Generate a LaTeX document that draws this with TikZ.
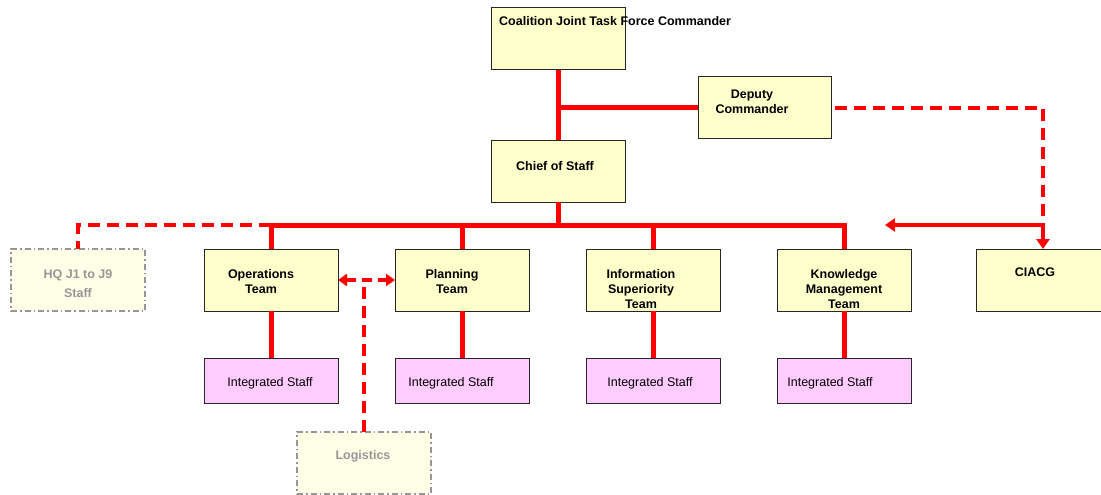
\documentclass[tikz,border=0pt]{standalone}
\usepackage{fontspec}
\setmainfont{Liberation Sans}
\usetikzlibrary{arrows.meta}
\definecolor{boxyellow}{RGB}{255,255,204}
\definecolor{boxpink}{RGB}{255,204,255}
\definecolor{paleyellow}{RGB}{255,255,232}
\definecolor{ghost}{RGB}{150,150,150}
\tikzset{
  box/.style={draw=black!85, line width=1pt, fill=boxyellow, anchor=north west, minimum width=134pt, minimum height=62pt, inner sep=0pt, outer sep=0pt},
  staffbox/.style={draw=black!85, line width=1pt, fill=boxpink, anchor=north west, minimum width=134pt, minimum height=45pt, inner sep=0pt, outer sep=0pt},
  ghostbox/.style={draw=ghost, line width=1.5pt, dash pattern=on 6pt off 3pt on 1.5pt off 3pt, fill=paleyellow, anchor=north west, minimum width=134pt, minimum height=62pt, inner sep=0pt, outer sep=0pt},
  txt/.style={font=\fontsize{12.5}{15}\selectfont\bfseries, align=center, inner sep=0pt},
  stafftxt/.style={font=\fontsize{12.5}{15}\selectfont, inner sep=0pt},
  ghosttxt/.style={txt, text=ghost},
  redline/.style={draw=red, line width=5pt},
  reddash/.style={draw=red, line width=4pt, dash pattern=on 12pt off 7pt},
  tip/.style={-{Triangle[length=10pt,width=13pt]}}
}
\begin{document}
\begin{tikzpicture}[x=1pt,y=-1pt]
\useasboundingbox (0,0) rectangle (1101,495);
% boxes
\node[box] (cjtf) at (491,8) {};
\node[box, minimum width=133pt, minimum height=61pt] (dep) at (698,77) {};
\node[box] (cos) at (491,140) {};
\node[ghostbox] (hq) at (11,249) {};
\node[box] (ops) at (204,249) {};
\node[box] (plan) at (395,249) {};
\node[box] (info) at (586,249) {};
\node[box] (km) at (777,249) {};
\node[box] (ciacg) at (976,249) {};
\node[staffbox] (s1) at (204,358) {};
\node[staffbox] (s2) at (395,358) {};
\node[staffbox] (s3) at (586,358) {};
\node[staffbox] (s4) at (777,358) {};
\node[ghostbox] (log) at (297,432) {};
% texts
\node[txt, anchor=base west] (tcjtf) at (499,26) {Coalition Joint Task Force Commander};
\node[txt] (tdep) at (752,102) {Deputy\\Commander};
\node[txt] (tcos) at (555,166) {Chief of Staff};
\node[ghosttxt, font=\fontsize{12.5}{19}\selectfont\bfseries] (thq) at (78,283.5) {HQ J1 to J9\\Staff};
\node[txt] (tops) at (261,282) {Operations\\Team};
\node[txt] (tplan) at (452,282) {Planning\\Team};
\node[txt] (tinfo) at (641,289) {Information\\Superiority\\Team};
\node[txt] (tkm) at (844,289) {Knowledge\\Management\\Team};
\node[txt] (tciacg) at (1035,272) {CIACG};
\node[stafftxt] (ts1) at (270,383) {Integrated Staff};
\node[stafftxt] (ts2) at (451,383) {Integrated Staff};
\node[stafftxt] (ts3) at (650,383) {Integrated Staff};
\node[stafftxt] (ts4) at (830,383) {Integrated Staff};
\node[ghosttxt] (tlog) at (363,456) {Logistics};
% coordinates
\coordinate (bus) at (558,225);
\coordinate (j) at (1043,225);
\coordinate (free) at (885,225);
% connectors
\draw[redline] (cjtf.south) -- (cos.north);
\draw[redline] (cjtf.south |- dep.west) -- (dep.west);
\draw[redline] (cos.south) -- (cos.south |- bus);
\draw[reddash] (ops.north |- bus) -| (hq.north);
\draw[redline] (ops.north) -- (ops.north |- bus) -| (km.north);
\draw[redline] (plan.north |- bus) -- (plan.north);
\draw[redline] (info.north |- bus) -- (info.north);
\draw[redline] (ops.south) -- (s1.north);
\draw[redline] (plan.south) -- (s2.north);
\draw[redline] (info.south) -- (s3.north);
\draw[redline] (km.south) -- (s4.north);
\draw[reddash] ([xshift=4pt]dep.east) -| (j);
\draw[redline, line width=4pt, tip] (j) -- (ciacg.north);
\draw[redline, line width=4pt, tip] (j) -- (free);
\draw[reddash, dash pattern=on 10pt off 6pt, {Triangle[length=9pt,width=12pt]}-{Triangle[length=9pt,width=12pt]}] (ops.east) -- (plan.west);
\draw[reddash] (log.north) -- (log.north |- ops.east);
\end{tikzpicture}
\end{document}
